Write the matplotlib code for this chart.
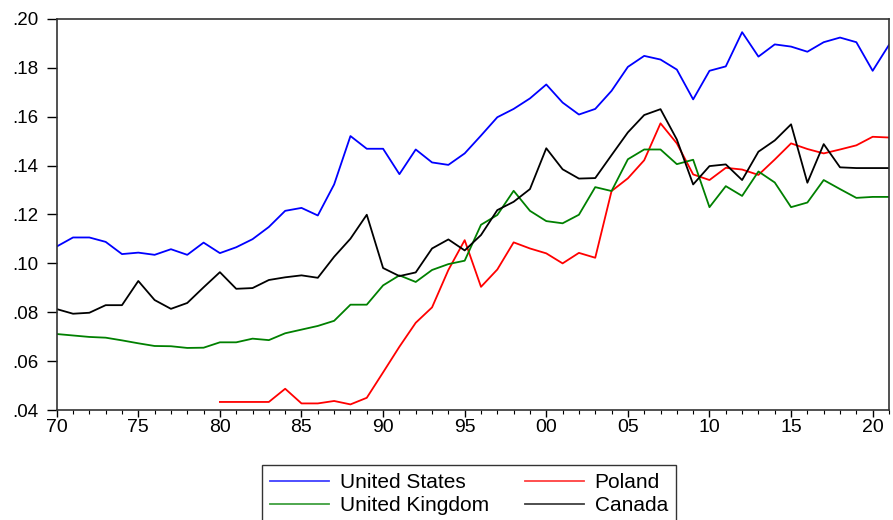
import numpy as np
import matplotlib
matplotlib.use("Agg")
from matplotlib import pyplot as plt
from matplotlib.ticker import MultipleLocator, FuncFormatter

years = list(range(1970, 2022))
poland_years = list(range(1980, 2022))

united_states = [
    0.1069, 0.1106, 0.1106, 0.1088, 0.1038, 0.1044, 0.1035, 0.1058, 0.1035, 0.1085,
    0.1042, 0.1066, 0.1099, 0.1149, 0.1215, 0.1227, 0.1196, 0.1323, 0.1521, 0.1469,
    0.1469, 0.1365, 0.1466, 0.1413, 0.1403, 0.1450, 0.1523, 0.1598, 0.1632, 0.1675,
    0.1732, 0.1658, 0.1609, 0.1632, 0.1706, 0.1804, 0.1849, 0.1834, 0.1793, 0.1671,
    0.1788, 0.1806, 0.1946, 0.1846, 0.1896, 0.1887, 0.1866, 0.1905, 0.1924, 0.1905,
    0.1788, 0.1894,
]
united_kingdom = [
    0.0711, 0.0705, 0.0699, 0.0696, 0.0685, 0.0673, 0.0662, 0.0661, 0.0654, 0.0655,
    0.0677, 0.0677, 0.0692, 0.0686, 0.0714, 0.0729, 0.0744, 0.0765, 0.0831, 0.0831,
    0.0910, 0.0951, 0.0924, 0.0973, 0.0997, 0.1011, 0.1158, 0.1198, 0.1297, 0.1215,
    0.1173, 0.1164, 0.1199, 0.1312, 0.1296, 0.1426, 0.1466, 0.1466, 0.1406, 0.1424,
    0.1230, 0.1316, 0.1276, 0.1376, 0.1331, 0.1230, 0.1249, 0.1341, 0.1304, 0.1268,
    0.1272, 0.1272,
]
poland = [
    0.0433, 0.0433, 0.0433, 0.0433, 0.0487, 0.0427, 0.0427, 0.0437, 0.0423, 0.0450,
    0.0554, 0.0659, 0.0757, 0.0820, 0.0973, 0.1095, 0.0904, 0.0975, 0.1086, 0.1061,
    0.1041, 0.1000, 0.1043, 0.1023, 0.1296, 0.1348, 0.1422, 0.1573, 0.1491, 0.1364,
    0.1341, 0.1391, 0.1384, 0.1362, 0.1425, 0.1491, 0.1468, 0.1450, 0.1466, 0.1483,
    0.1518, 0.1515,
]
canada = [
    0.0813, 0.0794, 0.0798, 0.0829, 0.0829, 0.0928, 0.0850, 0.0814, 0.0838, 0.0902,
    0.0964, 0.0896, 0.0899, 0.0932, 0.0943, 0.0951, 0.0941, 0.1027, 0.1101, 0.1199,
    0.0981, 0.0948, 0.0963, 0.1061, 0.1098, 0.1053, 0.1116, 0.1218, 0.1252, 0.1304,
    0.1471, 0.1385, 0.1347, 0.1349, 0.1443, 0.1536, 0.1607, 0.1631, 0.1507, 0.1323,
    0.1398, 0.1405, 0.1341, 0.1457, 0.1503, 0.1569, 0.1330, 0.1488, 0.1393, 0.1390,
    0.1390, 0.1390,
]

plt.rcParams["font.family"] = ["Liberation Sans", "DejaVu Sans"]

fig = plt.figure(figsize=(8.93, 5.20), dpi=100)
ax = fig.add_axes([0.0635, 0.2115, 0.932, 0.752])

lw = 1.3
ax.plot(years, united_states, color="#0000ff", lw=lw, label="United States")
ax.plot(poland_years, poland, color="#ff0000", lw=lw, label="Poland")
ax.plot(years, united_kingdom, color="#008000", lw=lw, label="United Kingdom")
ax.plot(years, canada, color="#000000", lw=lw, label="Canada")

ax.set_xlim(1970, 2021)
ax.set_ylim(0.04, 0.20)
ax.xaxis.set_major_locator(MultipleLocator(5))
ax.xaxis.set_minor_locator(MultipleLocator(1))
ax.yaxis.set_major_locator(MultipleLocator(0.02))
ax.xaxis.set_major_formatter(FuncFormatter(lambda v, p: f"{int(v) % 100:02d}"))
ax.yaxis.set_major_formatter(FuncFormatter(lambda v, p: f"{v:.2f}".lstrip("0")))
ax.tick_params(axis="x", which="major", length=5, width=1, direction="out", labelsize=14, pad=1.5)
ax.tick_params(axis="x", which="minor", length=3, width=0.8, direction="out")
ax.tick_params(axis="y", which="major", length=7, width=1, direction="out", labelsize=13.5, pad=6)
for s in ax.spines.values():
    s.set_color("#333333")
    s.set_linewidth(1.2)

# legend order: US, Poland / UK, Canada (row-wise)
h, l = ax.get_legend_handles_labels()
order = [0, 2, 1, 3]
leg = fig.legend([h[i] for i in order], [l[i] for i in order], ncol=2,
                 loc="upper left", bbox_to_anchor=(262 / 893, 1 - 465 / 520),
                 borderaxespad=0, fontsize=15, frameon=True, fancybox=False,
                 handlelength=2.8, columnspacing=1.75, labelspacing=0.18,
                 borderpad=0.4, handletextpad=0.53)
leg.get_frame().set_edgecolor("black")
leg.get_frame().set_linewidth(1.0)
for line in leg.get_lines():
    line.set_alpha(0.75)

fig.savefig("out.png", dpi=100)
